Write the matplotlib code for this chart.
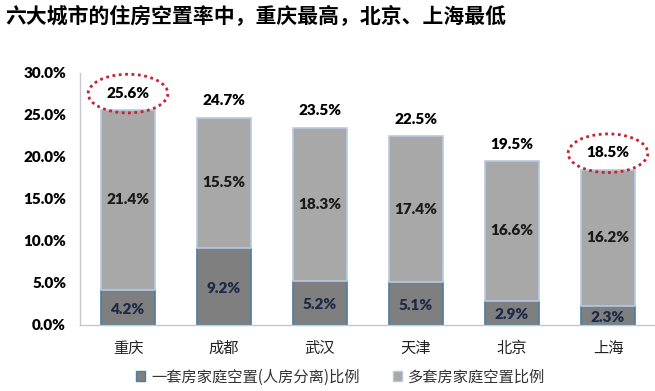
import matplotlib.pyplot as plt
import numpy as np
from matplotlib.patches import Ellipse, Patch

# ─── Data ─────────────────────────────────────────────────────────────────────

CITIES = ["重庆", "成都", "武汉", "天津", "北京", "上海"]
SINGLE = [4.2, 9.2, 5.2, 5.1, 2.9, 2.3]          # 一套房家庭空置(人房分离)比例
MULTI  = [21.4, 15.5, 18.3, 17.4, 16.6, 16.2]    # 多套房家庭空置比例
TOTAL  = [25.6, 24.7, 23.5, 22.5, 19.5, 18.5]
CIRCLED = ["重庆", "上海"]

TITLE = "六大城市的住房空置率中，重庆最高，北京、上海最低"
LEGEND = ["一套房家庭空置(人房分离)比例", "多套房家庭空置比例"]

# ─── Style ────────────────────────────────────────────────────────────────────

plt.rcParams["font.family"] = ["Noto Sans CJK SC", "DejaVu Sans"]
NUM_FONT = ["Lato", "DejaVu Sans"]

DARK   = "#7f7f7f"
DARK_E = "#4a7fa0"
LIGHT  = "#a8a8a8"
LIGHT_E = "#b7c9e2"

fig = plt.figure(figsize=(6.55, 3.91), dpi=100)
ax = fig.add_axes([80 / 655, 66 / 391, 576 / 655, 252 / 391])

x = np.arange(len(CITIES))
w = 0.57

ax.bar(x, SINGLE, width=w, color=DARK, edgecolor=DARK_E, linewidth=1.2, zorder=2)
ax.bar(x, MULTI, width=w, bottom=SINGLE, color=LIGHT, edgecolor=LIGHT_E,
       linewidth=1.2, zorder=2)

for i in range(len(CITIES)):
    ax.text(x[i], SINGLE[i] / 2 - 0.2, f"{SINGLE[i]:.1f}%", ha="center", va="center",
            fontsize=11, fontweight="heavy", color="#1c2a48", family=NUM_FONT, zorder=3)
    ax.text(x[i], SINGLE[i] + MULTI[i] / 2, f"{MULTI[i]:.1f}%", ha="center", va="center",
            fontsize=11, fontweight="heavy", color="#1a1a1a", family=NUM_FONT, zorder=3)
    ax.text(x[i], TOTAL[i] + 2.0, f"{TOTAL[i]:.1f}%", ha="center", va="center",
            fontsize=11, fontweight="heavy", color="black", family=NUM_FONT, zorder=3)
    if CITIES[i] in CIRCLED:
        ax.add_patch(Ellipse((x[i], TOTAL[i] + 1.95), 0.83, 4.6, fill=False,
                             edgecolor="#c8202c", linestyle=(0, (1, 1.3)),
                             linewidth=2, zorder=4, clip_on=False))

ax.set_xlim(-0.5, len(CITIES) - 0.5)
ax.set_ylim(0, 30)
ax.set_yticks(np.arange(0, 31, 5))
ax.set_yticklabels([f"{v:.1f}%" for v in np.arange(0, 31, 5)],
                   fontsize=11, fontweight="heavy", family=NUM_FONT)
ax.set_xticks(x)
ax.set_xticklabels(CITIES, fontsize=11, color="#222222")
ax.tick_params(axis="both", length=0)
ax.tick_params(axis="x", pad=11)
ax.tick_params(axis="y", pad=10)

for s in ["top", "right"]:
    ax.spines[s].set_visible(False)
for s in ["left", "bottom"]:
    ax.spines[s].set_color("#c8c8c8")
    ax.spines[s].set_linewidth(1)

fig.text(0.008, 0.988, TITLE, fontsize=15, fontweight="bold", va="top", ha="left")

handles = [Patch(facecolor=DARK, edgecolor=DARK_E), Patch(facecolor=LIGHT, edgecolor=LIGHT_E)]
fig.legend(handles, LEGEND, loc="center", bbox_to_anchor=(0.52, 0.036), ncol=2,
           frameon=False, fontsize=11, labelcolor="#333333", handlelength=0.6,
           handleheight=0.6, handletextpad=0.4, columnspacing=2.2)

fig.savefig("out.png", dpi=100, facecolor="white")
